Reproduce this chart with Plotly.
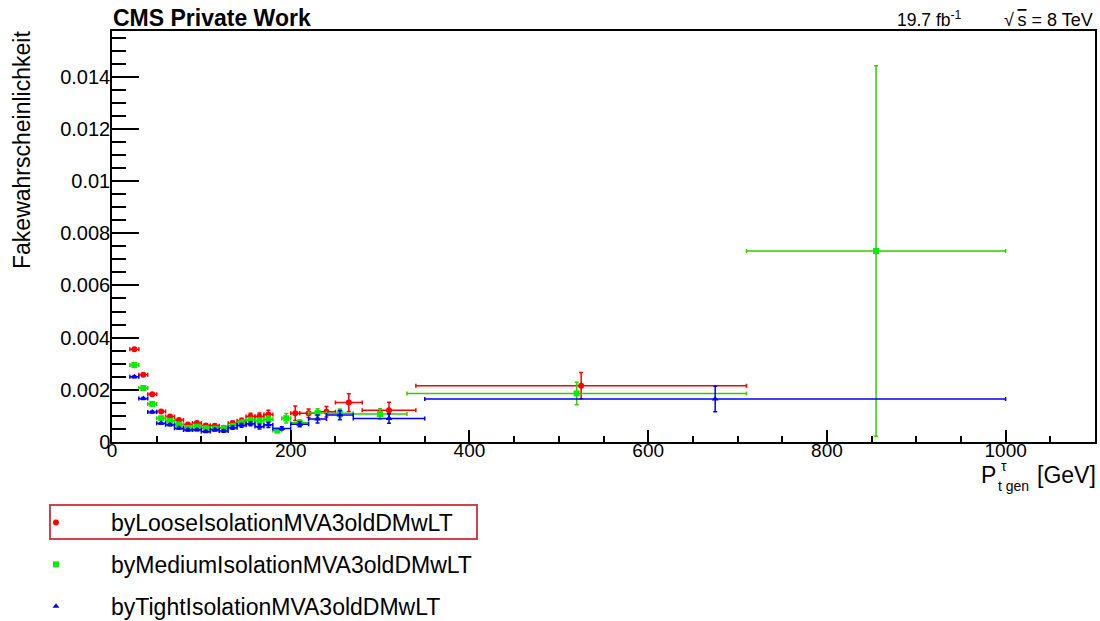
import plotly.graph_objects as go

# Generated tau pT bins (centre and half width, GeV) and fake rates per isolation working point
loose_pt = [25, 35, 45, 55, 65, 75, 85, 95, 105, 115, 125, 135, 145, 155, 165, 175,
            205, 220, 240, 265, 310, 525]
loose_pt_err = [5, 5, 5, 5, 5, 5, 5, 5, 5, 5, 5, 5, 5, 5, 5, 5,
                5, 10, 10, 15, 30, 185]
loose_rate = [0.00355, 0.00258, 0.00183, 0.00117, 0.00098, 0.00084, 0.00067, 0.00073,
              0.00063, 0.00062, 0.00055, 0.00072, 0.00081, 0.00098, 0.00098, 0.00105,
              0.00110, 0.00110, 0.00116, 0.00151, 0.00122, 0.00216]
loose_rate_err = [0.00004, 0.00004, 0.00004, 0.00004, 0.00005, 0.00005, 0.00005, 0.00006,
                  0.00006, 0.00006, 0.00007, 0.00008, 0.00010, 0.00012, 0.00013, 0.00017,
                  0.00028, 0.00016, 0.00020, 0.00034, 0.00030, 0.00050]

medium_pt = [25, 35, 45, 55, 65, 75, 85, 95, 105, 115, 125, 135, 145, 155, 165, 175,
             185, 195, 210, 230, 255, 300, 520, 855]
medium_pt_err = [5, 5, 5, 5, 5, 5, 5, 5, 5, 5, 5, 5, 5, 5, 5, 5,
                 5, 5, 10, 10, 15, 30, 190, 145]
medium_rate = [0.00295, 0.00207, 0.00146, 0.00091, 0.00081, 0.00067, 0.00054, 0.00059,
               0.00053, 0.00051, 0.00053, 0.00062, 0.00074, 0.00084, 0.00081, 0.00087,
               0.00044, 0.00091, 0.00074, 0.00111, 0.00110, 0.00107, 0.00186, 0.00732]
medium_rate_err = [0.00004, 0.00004, 0.00004, 0.00004, 0.00004, 0.00004, 0.00004, 0.00005,
                   0.00005, 0.00005, 0.00006, 0.00007, 0.00009, 0.00010, 0.00011, 0.00013,
                   0.00008, 0.00018, 0.00010, 0.00016, 0.00016, 0.00020, 0.00043, 0.00710]

tight_pt = [25, 35, 45, 55, 65, 75, 85, 95, 105, 115, 125, 135, 145, 155, 165, 175,
            190, 210, 230, 255, 310, 675]
tight_pt_err = [5, 5, 5, 5, 5, 5, 5, 5, 5, 5, 5, 5, 5, 5, 5, 5,
                10, 10, 10, 15, 40, 325]
tight_rate = [0.00250, 0.00167, 0.00115, 0.00072, 0.00066, 0.00053, 0.00046, 0.00047,
              0.00040, 0.00047, 0.00042, 0.00055, 0.00064, 0.00070, 0.00059, 0.00066,
              0.00052, 0.00068, 0.00088, 0.00103, 0.00090, 0.00165]
tight_rate_err = [0.00004, 0.00004, 0.00004, 0.00003, 0.00004, 0.00004, 0.00004, 0.00004,
                  0.00004, 0.00005, 0.00005, 0.00006, 0.00007, 0.00008, 0.00009, 0.00010,
                  0.00006, 0.00010, 0.00015, 0.00018, 0.00018, 0.00049]

series_names = ["byLooseIsolationMVA3oldDMwLT",
                "byMediumIsolationMVA3oldDMwLT",
                "byTightIsolationMVA3oldDMwLT"]

x_tick_vals = [0, 200, 400, 600, 800, 1000]
x_tick_text = ["0", "200", "400", "600", "800", "1000"]
y_tick_vals = [0, 0.002, 0.004, 0.006, 0.008, 0.010, 0.012, 0.014]
y_tick_text = ["0", "0.002", "0.004", "0.006", "0.008", "0.01", "0.012", "0.014"]

FONT = "Liberation Sans, Arial, Helvetica, sans-serif"
W, H = 1100, 621
L, R, T, B = 112, 5, 31, 179
PW, PH = W - L - R, H - T - B


def px_x(px):
    return (px - L) / PW


def px_y(py):
    return (H - B - py) / PH


styles = [
    dict(marker=dict(symbol="circle", size=6, color="#ff0000"), err="#ff0000"),
    dict(marker=dict(symbol="square", size=6, color="#00ee00"), err="#33cc00"),
    dict(marker=dict(symbol="triangle-up", size=6, color="#0000ff"), err="#0000ff"),
]

data = [
    (loose_pt, loose_pt_err, loose_rate, loose_rate_err),
    (medium_pt, medium_pt_err, medium_rate, medium_rate_err),
    (tight_pt, tight_pt_err, tight_rate, tight_rate_err),
]

fig = go.Figure()
for i, ((x, ex, y, ey), name, st) in enumerate(zip(data, series_names, styles)):
    fig.add_trace(go.Scatter(
        x=x, y=y, name=name, mode="markers",
        marker=st["marker"],
        error_x=dict(type="data", array=ex, color=st["err"], thickness=1.5, width=2),
        error_y=dict(type="data", array=ey, color=st["err"], thickness=1.5, width=2),
        legendgroup=f"g{i}",
    ))

fig.update_layout(
    width=W, height=H,
    margin=dict(l=L, r=R, t=T, b=B, autoexpand=False),
    paper_bgcolor="white", plot_bgcolor="white",
    font=dict(family=FONT, size=18, color="black"),
    showlegend=True,
    legend=dict(
        x=px_x(1), y=px_y(501), xanchor="left", yanchor="top",
        font=dict(family=FONT, size=23, color="black"),
        itemwidth=100, tracegroupgap=9, bgcolor="rgba(0,0,0,0)",
    ),
    xaxis=dict(
        range=[0, 1100], tickmode="array", tickvals=x_tick_vals, ticktext=x_tick_text,
        ticks="inside", ticklen=12, tickwidth=1.5, tickcolor="black",
        minor=dict(ticks="inside", ticklen=6, tickwidth=1.5, tickcolor="black", dtick=50, tick0=0),
        showline=True, linecolor="black", linewidth=1.5, mirror=True,
        showgrid=False, zeroline=False, automargin=False,
        tickfont=dict(family=FONT, size=19), ticklabelstandoff=-10,
    ),
    yaxis=dict(
        range=[0, 0.01575], tickmode="array", tickvals=y_tick_vals, ticktext=y_tick_text,
        ticks="inside", ticklen=27, tickwidth=1.5, tickcolor="black",
        minor=dict(ticks="inside", ticklen=14, tickwidth=1.5, tickcolor="black", dtick=0.0005, tick0=0),
        showline=True, linecolor="black", linewidth=1.5, mirror=True,
        showgrid=False, zeroline=False, automargin=False,
        tickfont=dict(family=FONT, size=20), ticklabelstandoff=-4,
    ),
)

ann = []
# header texts
ann.append(dict(text="<b>CMS Private Work</b>", x=px_x(111), y=px_y(3), xanchor="left", yanchor="top",
                font=dict(size=23)))
ann.append(dict(text="19.7 fb<sup>-1</sup>", x=px_x(964), y=px_y(31.5), xanchor="right", yanchor="bottom",
                font=dict(size=17.5)))
ann.append(dict(text="√\u2009<span style='text-decoration:overline'>s</span> = 8 TeV", x=px_x(1095), y=px_y(31.5),
                xanchor="right", yanchor="bottom", font=dict(size=18)))
# y-axis title, aligned to the top of the axis
ann.append(dict(text="Fakewahrscheinlichkeit", textangle=-90, x=px_x(22), y=px_y(29),
                xanchor="center", yanchor="top", font=dict(size=23)))
# x-axis title, aligned to the right end of the axis
ann.append(dict(text="P", x=px_x(979), y=px_y(460), xanchor="left", yanchor="top", font=dict(size=23)))
ann.append(dict(text="τ", x=px_x(999), y=px_y(456), xanchor="left", yanchor="top", font=dict(size=14)))
ann.append(dict(text="t gen", x=px_x(996), y=px_y(475.5), xanchor="left", yanchor="top", font=dict(size=14)))
ann.append(dict(text="[GeV]", x=px_x(1098), y=px_y(460), xanchor="right", yanchor="top", font=dict(size=23)))

for a in ann:
    a.update(xref="paper", yref="paper", showarrow=False)
    a["font"].update(family=FONT, color="black")
fig.update_layout(annotations=ann)

# highlight frame around the first legend entry
fig.add_shape(type="rect", xref="paper", yref="paper",
              x0=px_x(50), x1=px_x(477), y0=px_y(505), y1=px_y(539),
              line=dict(color="#d4404c", width=2), fillcolor="rgba(0,0,0,0)")

fig.write_html("out.html")
